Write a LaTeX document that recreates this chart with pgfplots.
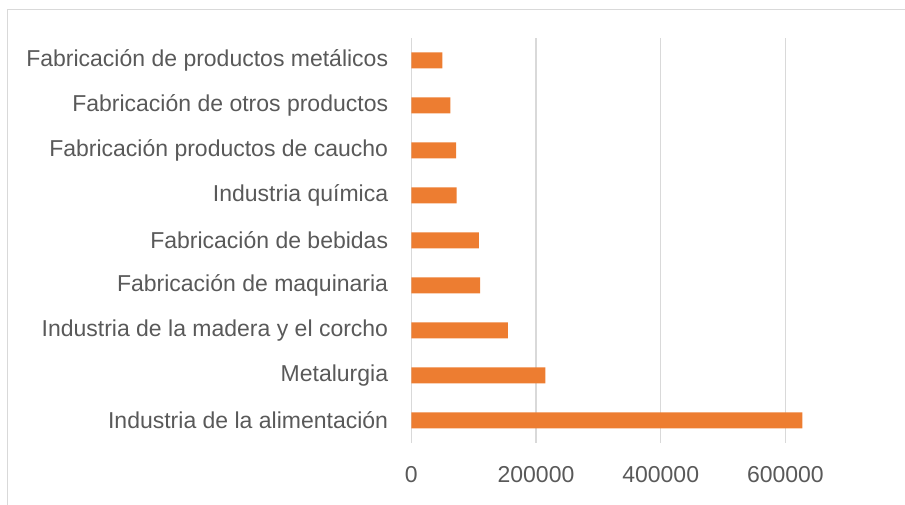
\documentclass[border=0pt]{standalone}
\usepackage{pgfplots}
\usepackage{pgfplotstable}
\pgfplotsset{compat=1.18}
\usepackage{fontspec}
\setmainfont{Liberation Sans}
\definecolor{barorange}{RGB}{237,125,49}
\definecolor{gridgray}{RGB}{217,217,217}
\definecolor{txtgray}{RGB}{89,89,89}

\pgfplotstableread{
y value
0 627000
1 215000
2 155000
3 110500
4 108500
5 72500
6 72000
7 62500
8 49700
}\sectores

\begin{document}
\begin{tikzpicture}[x=1pt,y=1pt]
\useasboundingbox (0,0) rectangle (905,505);
\draw[gridgray, line width=1.2pt] (7.3,0) -- (7.3,495.7) -- (905,495.7);
\begin{axis}[
    at={(411.3pt,62pt)}, anchor=south west,
    scale only axis, width=493.7pt, height=405pt,
    xbar, bar width=16pt,
    xmin=0, xmax=791800, ymin=-0.5, ymax=8.5,
    ytick={0,...,8},
    yticklabels={Industria de la alimentación, Metalurgia, Industria de la madera y el corcho, Fabricación de maquinaria, Fabricación de bebidas, Industria química, Fabricación productos de caucho, {Fabricación de otros productos\ }, Fabricación de productos metálicos},
    xtick={0,200000,400000,600000},
    xticklabels={0,200000,400000,600000},
    xmajorgrids, major grid style={gridgray, line width=1.2pt},
    axis line style={draw=none}, major tick length=0pt,
    tick label style={font=\fontsize{23}{27}\selectfont, text=txtgray},
    yticklabel style={inner sep=0pt, xshift=-23pt},
    xticklabel style={inner sep=0pt, yshift=-23pt},
  ]
  \addplot[fill=barorange, draw=none] table[x=value, y=y] {\sectores};
\end{axis}
\end{tikzpicture}
\end{document}
